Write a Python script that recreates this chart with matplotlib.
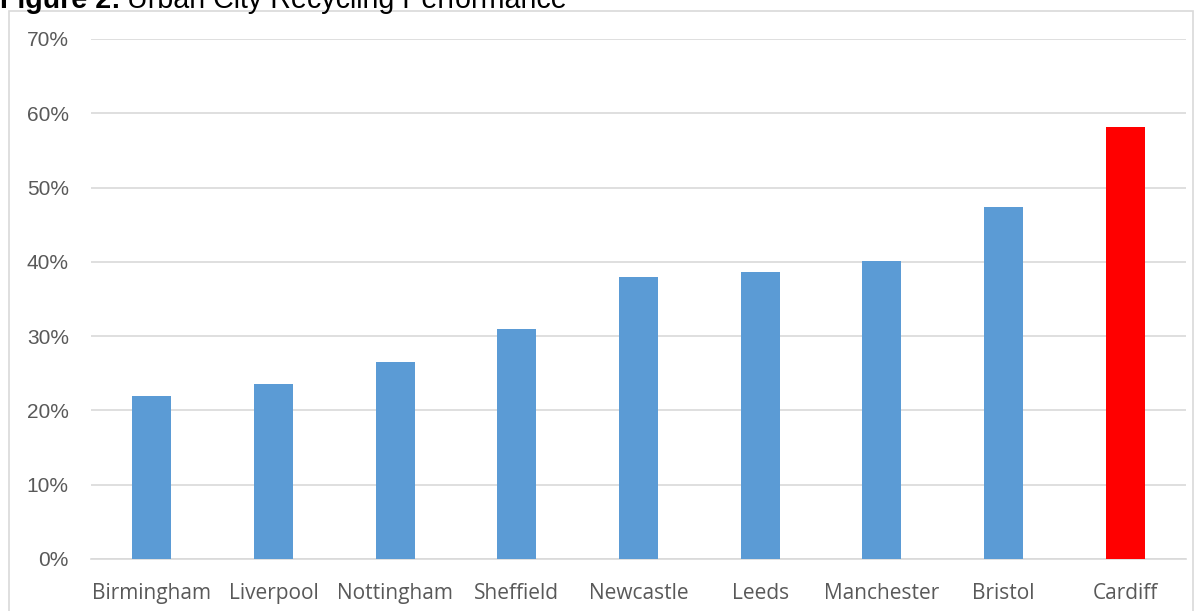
import matplotlib.pyplot as plt
from matplotlib.patches import Rectangle

# data
cities = ['Birmingham', 'Liverpool', 'Nottingham', 'Sheffield', 'Newcastle',
          'Leeds', 'Manchester', 'Bristol', 'Cardiff']
rates = [0.220, 0.236, 0.265, 0.309, 0.379, 0.387, 0.401, 0.474, 0.581]
yticks = [0, 0.1, 0.2, 0.3, 0.4, 0.5, 0.6, 0.7]
ylabels = ['0%', '10%', '20%', '30%', '40%', '50%', '60%', '70%']

colors = ['#5B9BD5'] * (len(cities) - 1) + ['#FF0000']

W, H = 1202, 611
fig = plt.figure(figsize=(W / 100, H / 100), dpi=100)

# outer chart border
fig.patches.append(Rectangle((9 / W, -0.1), (1193 - 9) / W, 1 - 11 / H + 0.1,
                             transform=fig.transFigure, fill=False,
                             edgecolor='#D9D9D9', lw=1.2))

ax = fig.add_axes([91 / W, 1 - 559 / H, (1186 - 91) / W, (559 - 39) / H])
ax.bar(range(len(cities)), rates, width=0.32, color=colors, zorder=3)
ax.set_xlim(-0.5, len(cities) - 0.5)
ax.set_ylim(0, 0.7)
ax.set_yticks(yticks)
ax.set_yticklabels(ylabels, fontfamily='Liberation Sans', fontsize=15, color='#595959')
ax.set_xticks(range(len(cities)))
ax.set_xticklabels(cities, fontfamily='Open Sans', fontsize=15, color='#595959')
ax.tick_params(length=0, axis='y', pad=16)
ax.tick_params(length=0, axis='x', pad=17)
ax.grid(axis='y', color='#D9D9D9', lw=1.2, zorder=0)
for s in ['top', 'right', 'left']:
    ax.spines[s].set_visible(False)
ax.spines['bottom'].set_color('#D9D9D9')
ax.spines['bottom'].set_linewidth(1.2)

# title, cut off at the top like the original
t = fig.text(0, 1 - 8 / H, 'Figure 2:', fontsize=20.6, va='baseline', weight='bold',
             fontfamily='Liberation Sans')
fig.canvas.draw()
bb = t.get_window_extent()
fig.text((bb.x1 + 6) / W, 1 - 8 / H, 'Urban City Recycling Performance',
         fontsize=20.6, va='baseline', fontfamily='Liberation Sans')

fig.savefig('out.png', dpi=100)
